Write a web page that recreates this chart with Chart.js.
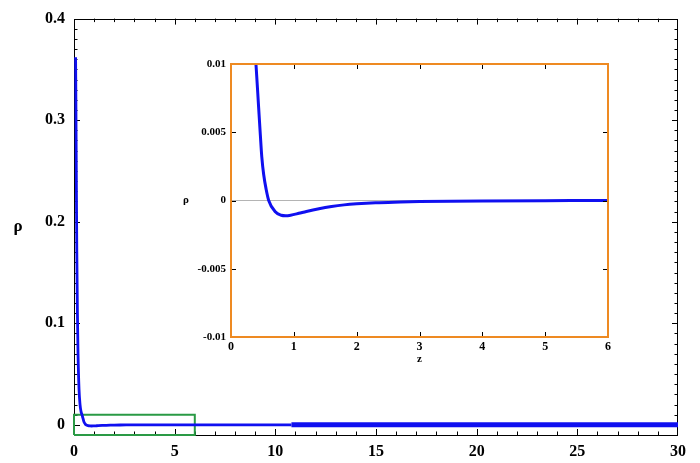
<!DOCTYPE html>
<html><head><meta charset="utf-8">
<script src="https://cdn.jsdelivr.net/npm/chart.js@4.4.1/dist/chart.umd.min.js"></script>
<style>
html,body{margin:0;padding:0;background:#fff;}
#wrap{position:relative;width:700px;height:463px;}
canvas{position:absolute;left:0;top:0;}
</style></head><body>
<div id="wrap"><canvas id="main" width="700" height="463"></canvas><canvas id="inset" width="700" height="463"></canvas></div>
<script>
// ---- data ----
const zValues   = [0.08, 0.1, 0.12, 0.14, 0.17, 0.2, 0.25, 0.3, 0.35, 0.4, 0.44, 0.467, 0.49, 0.52, 0.56, 0.6, 0.7, 0.8, 0.87, 0.95, 1.08, 1.2, 1.4, 1.6, 1.8, 2.0, 2.3, 2.7, 3.0, 3.5, 4.0, 5.0, 6.0, 7, 8, 9, 10, 10.8];
const rhoValues = [0.362, 0.3, 0.23, 0.17, 0.11, 0.07, 0.035, 0.02, 0.013, 0.0098, 0.0068, 0.0048, 0.0032, 0.0019, 0.0008, 0.0, -0.0008, -0.00108, -0.00112, -0.00108, -0.00094, -0.0008, -0.0006, -0.00044, -0.00032, -0.00024, -0.00016, -0.00011, -0.00008, -0.00005, -0.00003, -0.00001, 0, 0, 0, 0, 0, 0];
const tailZ   = [10.8, 30];
const tailRho = [0, 0];
const boxZ   = [0, 6, 6, 0, 0];
const boxRho = [-0.01, -0.01, 0.01, 0.01, -0.01];
const zeroLineZ   = [0, 6];
const zeroLineRho = [0, 0];
const mainXTicks  = [0, 5, 10, 15, 20, 25, 30];
const mainYTicks  = [0, 0.1, 0.2, 0.3, 0.4];
const mainYLabels = ['0', '0.1', '0.2', '0.3', '0.4'];
const insetXTicks  = [0, 1, 2, 3, 4, 5, 6];
const insetYTicks  = [-0.01, -0.005, 0, 0.005, 0.01];
const insetYLabels = ['-0.01', '-0.005', '0', '0.005', '0.01'];

const pts = (xs, ys) => xs.map((x, i) => ({x: x, y: ys[i]}));
const SERIF = '"Liberation Serif", "DejaVu Serif", serif';
const BLUE = '#1010f0';

// ---- main chart ----
const mainDecor = {
  id: 'mainDecor',
  beforeDatasetsDraw(chart) {
    const {ctx, chartArea: a, scales: {x, y}} = chart;
    ctx.save();
    ctx.strokeStyle = '#000';
    ctx.lineWidth = 1;
    ctx.strokeRect(Math.round(a.left) + 0.5, Math.round(a.top) + 0.5, Math.round(a.right - a.left) - 1, Math.round(a.bottom - a.top));
    ctx.beginPath();
    for (let v = 1; v < 30; v++) {
      const len = v % 5 === 0 ? 6 : 3.5;
      const px = Math.round(x.getPixelForValue(v)) + 0.5;
      ctx.moveTo(px, a.bottom); ctx.lineTo(px, a.bottom - len);
      ctx.moveTo(px, a.top); ctx.lineTo(px, a.top + len);
    }
    for (let k = 0; k < 40; k++) {
      const v = k / 100;
      const len = k % 10 === 0 ? 6 : 3.5;
      const py = Math.round(y.getPixelForValue(v)) + 0.5;
      ctx.moveTo(a.left, py); ctx.lineTo(a.left + len, py);
      ctx.moveTo(a.right, py); ctx.lineTo(a.right - len, py);
    }
    ctx.stroke();
    ctx.fillStyle = '#000';
    ctx.font = 'bold 17px ' + SERIF;
    ctx.textAlign = 'center';
    ctx.textBaseline = 'middle';
    ctx.fillText('ρ', 18, (a.top + a.bottom) / 2);
    ctx.restore();
  }
};

new Chart(document.getElementById('main'), {
  type: 'line',
  data: {
    datasets: [
      {data: pts(zValues, rhoValues), borderColor: BLUE, borderWidth: 2.8, pointRadius: 0, cubicInterpolationMode: 'monotone'},
      {data: pts(tailZ, tailRho), borderColor: BLUE, borderWidth: 5, pointRadius: 0},
      {data: pts(boxZ, boxRho), borderColor: '#2a9a45', borderWidth: 2, pointRadius: 0, tension: 0, clip: false}
    ]
  },
  options: {
    responsive: false, animation: false, devicePixelRatio: 1,
    layout: {padding: {left: 0, right: 22, top: 10, bottom: 0}},
    plugins: {legend: {display: false}, tooltip: {enabled: false}},
    scales: {
      x: {
        type: 'linear', min: 0, max: 30,
        grid: {display: false, drawTicks: false}, border: {display: false},
        afterBuildTicks: s => { s.ticks = mainXTicks.map(v => ({value: v})); },
        afterFit: s => { s.height = 28; },
        ticks: {color: '#000', font: {family: SERIF, size: 16, weight: 'bold'}, padding: 7, maxRotation: 0}
      },
      y: {
        type: 'linear', min: -0.01, max: 0.4,
        grid: {display: false, drawTicks: false}, border: {display: false},
        afterBuildTicks: s => { s.ticks = mainYTicks.map(v => ({value: v})); },
        afterFit: s => { s.width = 74; },
        ticks: {color: '#000', font: {family: SERIF, size: 16, weight: 'bold'}, padding: 9,
          callback: v => mainYLabels[mainYTicks.indexOf(v)]}
      }
    }
  },
  plugins: [mainDecor]
});

// ---- inset chart ----
const insetDecor = {
  id: 'insetDecor',
  beforeDraw(chart) {
    const {ctx, chartArea: a} = chart;
    ctx.save();
    ctx.fillStyle = '#fff';
    ctx.fillRect(a.left, a.top, a.right - a.left, a.bottom - a.top);
    ctx.restore();
  },
  afterDatasetsDraw(chart) {
    const {ctx, chartArea: a, scales: {x, y}} = chart;
    ctx.save();
    ctx.strokeStyle = '#000';
    ctx.lineWidth = 1;
    ctx.beginPath();
    insetXTicks.slice(1, -1).forEach(v => {
      const px = Math.round(x.getPixelForValue(v)) + 0.5;
      ctx.moveTo(px, a.bottom); ctx.lineTo(px, a.bottom - 5);
      ctx.moveTo(px, a.top); ctx.lineTo(px, a.top + 5);
    });
    insetYTicks.slice(1, -1).forEach(v => {
      const py = Math.round(y.getPixelForValue(v)) + 0.5;
      ctx.moveTo(a.left, py); ctx.lineTo(a.left + 5, py);
      ctx.moveTo(a.right, py); ctx.lineTo(a.right - 5, py);
    });
    ctx.stroke();
    ctx.strokeStyle = '#ee8a22';
    ctx.lineWidth = 2;
    ctx.strokeRect(a.left, a.top, a.right - a.left, a.bottom - a.top);
    ctx.fillStyle = '#000';
    ctx.font = 'bold 11px ' + SERIF;
    ctx.textAlign = 'center';
    ctx.textBaseline = 'middle';
    ctx.fillText('ρ', 186, (a.top + a.bottom) / 2);
    ctx.restore();
  }
};

const nInset = zValues.filter(z => z <= 6).length;
new Chart(document.getElementById('inset'), {
  type: 'line',
  data: {
    datasets: [
      {data: pts(zValues.slice(0, nInset), rhoValues.slice(0, nInset)), borderColor: BLUE, borderWidth: 3, pointRadius: 0, cubicInterpolationMode: 'monotone'},
      {data: pts(zeroLineZ, zeroLineRho), borderColor: '#b4b4b4', borderWidth: 1, pointRadius: 0}
    ]
  },
  options: {
    responsive: false, animation: false, devicePixelRatio: 1,
    layout: {padding: {left: 0, right: 92, top: 64, bottom: 97}},
    plugins: {legend: {display: false}, tooltip: {enabled: false}},
    scales: {
      x: {
        type: 'linear', min: 0, max: 6,
        grid: {display: false, drawTicks: false}, border: {display: false},
        afterBuildTicks: s => { s.ticks = insetXTicks.map(v => ({value: v})); },
        afterFit: s => { s.height = 29; },
        title: {display: true, text: 'z', color: '#000', font: {family: SERIF, size: 11, weight: 'bold'}, padding: {top: 0, bottom: 0}},
        ticks: {color: '#000', font: {family: SERIF, size: 12, weight: 'bold'}, padding: 3, maxRotation: 0}
      },
      y: {
        type: 'linear', min: -0.01, max: 0.01,
        grid: {display: false, drawTicks: false}, border: {display: false},
        afterBuildTicks: s => { s.ticks = insetYTicks.map(v => ({value: v})); },
        afterFit: s => { s.width = 231; },
        ticks: {color: '#000', font: {family: SERIF, size: 11, weight: 'bold'}, padding: 5,
          callback: v => insetYLabels[insetYTicks.indexOf(v)]}
      }
    }
  },
  plugins: [insetDecor]
});
</script>
</body></html>
